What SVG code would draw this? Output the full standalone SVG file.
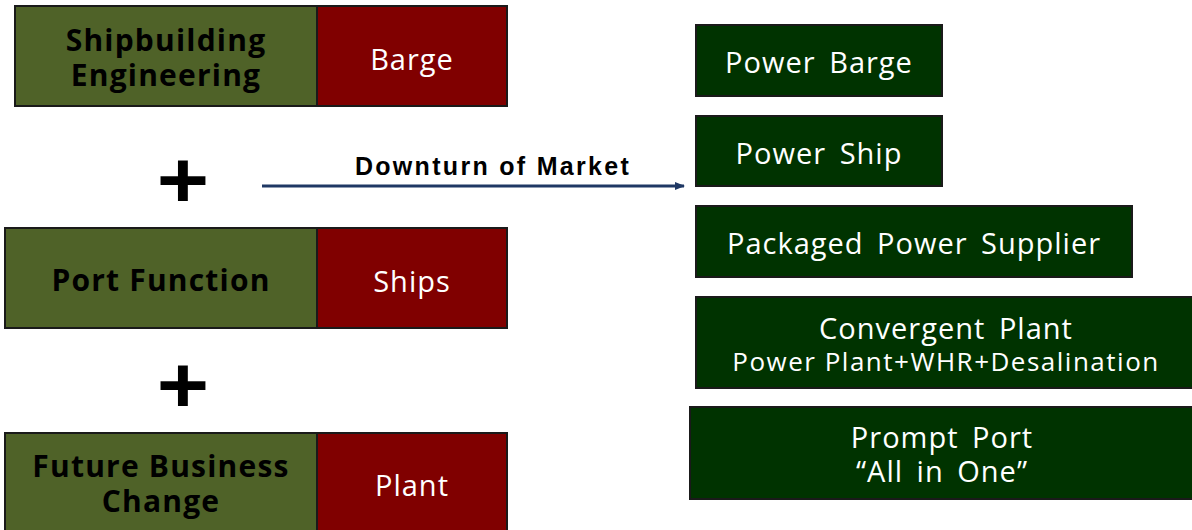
<svg xmlns="http://www.w3.org/2000/svg" width="1192" height="530" viewBox="0 0 1192 530">
<defs>
<style>
.ol{fill:#4f6228;stroke:#1a1a1a;stroke-width:2}
.rd{fill:#800000;stroke:#1a1a1a;stroke-width:2}
.gr{fill:#003300;stroke:#1a1a1a;stroke-width:2}
.lt{font-family:"Open Sans","Noto Sans",sans-serif;font-weight:bold;font-size:30px;letter-spacing:1.2px;fill:#000;text-anchor:middle}
.wt{font-family:"Open Sans","Noto Sans",sans-serif;font-size:29px;letter-spacing:1px;word-spacing:5px;fill:#fff;text-anchor:middle}
.ws{font-family:"Open Sans","Noto Sans",sans-serif;font-size:26px;letter-spacing:1.5px;fill:#fff;text-anchor:middle}
.plus{font-family:"Liberation Sans",Arial,sans-serif;font-weight:bold;font-size:80px;fill:#000;text-anchor:middle}
</style>
<marker id="ah" markerWidth="10" markerHeight="10" refX="9" refY="5" orient="auto" markerUnits="userSpaceOnUse">
<path d="M0,1 L10,5 L0,9 Z" fill="#1f3864"/>
</marker>
</defs>
<rect width="1192" height="530" fill="#fff"/>
<g id="n-shipbuilding">
<rect class="ol" x="15" y="6" width="302" height="100"/>
<text class="lt" x="166" y="51">Shipbuilding</text>
<text class="lt" x="166" y="86">Engineering</text>
</g>
<g id="n-barge">
<rect class="rd" x="317" y="6" width="190" height="100"/>
<text class="wt" x="412" y="70">Barge</text>
</g>
<g id="n-port">
<rect class="ol" x="5" y="228" width="312" height="100"/>
<text class="lt" x="161" y="291">Port Function</text>
</g>
<g id="n-ships">
<rect class="rd" x="317" y="228" width="190" height="100"/>
<text class="wt" x="412" y="292">Ships</text>
</g>
<g id="n-future">
<rect class="ol" x="5" y="433" width="312" height="110"/>
<text class="lt" x="161" y="477">Future Business</text>
<text class="lt" x="161" y="512">Change</text>
</g>
<g id="n-plant">
<rect class="rd" x="317" y="433" width="190" height="110"/>
<text class="wt" x="412" y="496">Plant</text>
</g>
<g id="plus-signs">
<text class="plus" x="0" y="0" transform="translate(183,207) scale(1.12,1)">+</text>
<text class="plus" x="0" y="0" transform="translate(183,412) scale(1.12,1)">+</text>
</g>
<g id="connectors">
<line x1="262" y1="186" x2="684" y2="186" stroke="#1f3864" stroke-width="3" marker-end="url(#ah)"/>
<text x="493" y="175" font-family="'Liberation Sans',Arial,sans-serif" font-weight="bold" font-size="25" letter-spacing="2.3" fill="#000" text-anchor="middle">Downturn of Market</text>
</g>
<g id="n-power-barge">
<rect class="gr" x="696" y="25" width="246" height="71"/>
<text class="wt" x="819" y="73">Power Barge</text>
</g>
<g id="n-power-ship">
<rect class="gr" x="696" y="116" width="246" height="70"/>
<text class="wt" x="819" y="164">Power Ship</text>
</g>
<g id="n-packaged">
<rect class="gr" x="696" y="206" width="436" height="71"/>
<text class="wt" x="914" y="254">Packaged Power Supplier</text>
</g>
<g id="n-convergent">
<rect class="gr" x="696" y="297" width="500" height="91"/>
<text class="wt" x="946" y="339">Convergent Plant</text>
<text class="ws" x="946" y="371">Power Plant+WHR+Desalination</text>
</g>
<g id="n-prompt">
<rect class="gr" x="690" y="407" width="506" height="92"/>
<text class="wt" x="942" y="448">Prompt Port</text>
<text class="wt" x="942" y="482">“All in One”</text>
</g>
</svg>
